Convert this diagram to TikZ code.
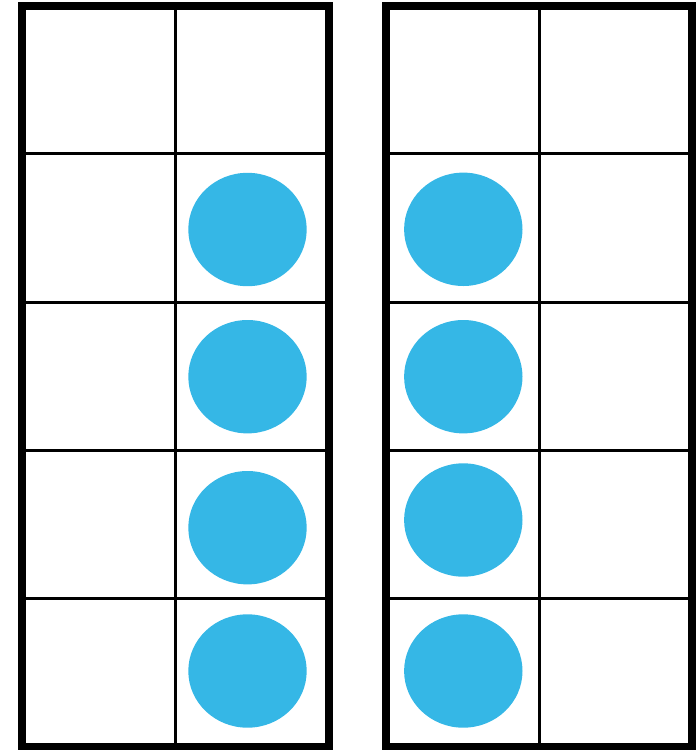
\documentclass[tikz,border=0pt]{standalone}
\definecolor{dotblue}{RGB}{53,183,230}
\tikzset{
  gridline/.style={draw=black,line width=3pt},
  frameline/.style={draw=black,line width=8pt},
  counter/.style={fill=dotblue},
}
\begin{document}
\begin{tikzpicture}[x=1pt,y=-1pt]
\useasboundingbox (0,0) rectangle (697,750);
% left frame
\foreach \y in {153.8,302.1,450.4,598.7} \draw[gridline] (22,\y) -- (329,\y);
\draw[gridline] (175.5,5.5) -- (175.5,747);
\draw[frameline] (22,5.5) rectangle (329,747);
% right frame
\foreach \y in {153.8,302.1,450.4,598.7} \draw[gridline] (385.5,\y) -- (692,\y);
\draw[gridline] (539,5.5) -- (539,747);
\draw[frameline] (385.5,5.5) rectangle (692,747);
% counters left
\foreach \y in {229.5,376.7,527.7,671} \fill[counter] (247.5,\y) ellipse [x radius=59.2, y radius=56.7];
% counters right
\foreach \y in {229.3,376.7,520,671} \fill[counter] (463.3,\y) ellipse [x radius=59.2, y radius=56.7];
\end{tikzpicture}
\end{document}
